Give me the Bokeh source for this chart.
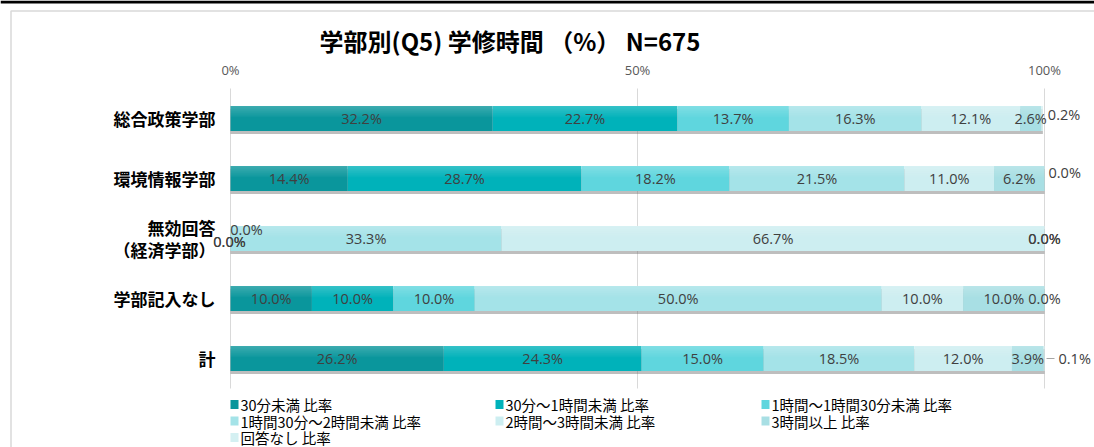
from bokeh.plotting import figure
from bokeh.models import ColumnDataSource, Range1d
from bokeh.core.properties import value
from bokeh.embed import file_html
from bokeh.resources import INLINE

# ---------------- data ----------------
title_text = "学部別(Q5) 学修時間 （%） N=675"
categories = ["総合政策学部", "環境情報学部", "無効回答（経済学部）", "学部記入なし", "計"]
category_labels = ["総合政策学部", "環境情報学部", "無効回答\n（経済学部）", "学部記入なし", "計"]
series_names = ["30分未満 比率", "30分～1時間未満 比率", "1時間～1時間30分未満 比率",
                "1時間30分～2時間未満 比率", "2時間～3時間未満 比率", "3時間以上 比率",
                "回答なし 比率"]
under_30m = [32.2, 14.4, 0.0, 10.0, 26.2]
m30_to_1h = [22.7, 28.7, 0.0, 10.0, 24.3]
h1_to_1h30 = [13.7, 18.2, 0.0, 10.0, 15.0]
h1h30_to_2h = [16.3, 21.5, 33.3, 50.0, 18.5]
h2_to_3h = [12.1, 11.0, 66.7, 10.0, 12.0]
h3_plus = [2.6, 6.2, 0.0, 10.0, 3.9]
no_answer = [0.2, 0.0, 0.0, 0.0, 0.1]
x_ticks = [0, 50, 100]
x_tick_labels = ["0%", "50%", "100%"]

# ---------------- styles / layout ----------------
colors = ["#0a969c", "#00b2ba", "#5fd6de", "#a4e3e8", "#cdeef1", "#a8dfe4", "#d4f0f2"]
keys = ["s%d" % i for i in range(7)]
series_values = [under_30m, m30_to_1h, h1_to_1h30, h1h30_to_2h, h2_to_3h, h3_plus, no_answer]
W, H = 1094, 447
X0_PX, PXU = 230, 8.14          # pixel of 0 %, pixels per percent
ROW0_PX, PXY = 118, 60          # pixel of first row centre, pixels per row
BAR_H = 0.42
JP = "Noto Sans CJK JP"
NUM = "Open Sans"
n = len(categories)


def xpx(px):
    return (px - X0_PX) / PXU


def ypx(py):
    return (n - 1) - (py - ROW0_PX) / PXY


rows_y = [n - 1 - i for i in range(n)]
band_top = n - 0.5
band_bottom = -0.5

# crowded label nudges: (row, series) -> (dx px, dy px, align)
nudges = {
    (0, 6): (5, -4, "left"),
    (1, 6): (4, -6, "left"),
    (4, 6): (14, 0, "left"),
    (2, 0): (16, -9, "center"),
    (2, 1): (-1, 3, "center"),
    (2, 2): (-1, 3, "center"),
}

p = figure(width=W, height=H, output_backend="svg", toolbar_location=None,
           x_range=Range1d(xpx(0), xpx(W)), y_range=Range1d(ypx(H), ypx(0)),
           x_axis_location=None, y_axis_location=None,
           min_border_left=0, min_border_right=0, min_border_top=0, min_border_bottom=0)
p.outline_line_color = None
p.xgrid.visible = False
p.ygrid.visible = False
p.background_fill_color = "white"
p.border_fill_color = "white"

# page decorations (sheet border line and chart frame)
p.quad(left=[xpx(0)], right=[xpx(W)], top=[ypx(0)], bottom=[ypx(3)],
       fill_color="#000000", line_color=None)
p.quad(left=[xpx(10.5)], right=[xpx(W + 10)], top=[ypx(10.5)], bottom=[ypx(H + 10)],
       fill_color=None, line_color="#d9d9d9", line_width=1.5)

# vertical grid lines at ticks
p.segment(x0=x_ticks, x1=x_ticks, y0=[band_bottom] * len(x_ticks),
          y1=[band_top] * len(x_ticks), line_color="#d9d9d9", line_width=1)

# tick labels (top)
p.text(x=x_ticks, y=[band_top] * len(x_ticks), text=x_tick_labels, y_offset=-19,
       text_align="center", text_baseline="middle", text_font=value(NUM),
       text_font_size="13px", text_color="#595959")

# title
p.text(x=[xpx(509.5)], y=[band_top], text=[title_text], y_offset=-48,
       text_align="center", text_baseline="middle", text_font=value(JP),
       text_font_size="24px", text_font_style="bold", text_color="#000000")

# category labels
p.text(x=[0] * n, y=rows_y, text=category_labels, x_offset=-15,
       text_align="right", text_baseline="middle", text_font=value(JP),
       text_font_size="17px", text_font_style="bold", text_color="#000000",
       text_line_height=0.85)

# bars
data = {"y": rows_y}
for k, v in zip(keys, series_values):
    data[k] = v
src = ColumnDataSource(data)
totals = [sum(s[i] for s in series_values) for i in range(n)]

shadow_y = [r - 3.0 / PXY for r in rows_y]
p.hbar(y=shadow_y, left=0, right=totals, height=BAR_H, fill_color="#6f6f6f",
       fill_alpha=0.45, line_color=None)

renderers = p.hbar_stack(keys, y="y", height=BAR_H, color=colors, source=src,
                         line_color=None)

n_strips = 6
strip_h = BAR_H * 0.45 / n_strips
for i in range(n_strips):
    off = BAR_H / 2 - (i + 0.5) * strip_h
    p.hbar(y=[r + off for r in rows_y], left=0, right=totals, height=strip_h * 1.05,
           fill_color="white", fill_alpha=0.20 * (1 - i / n_strips), line_color=None)

# data labels
lx, ly, lt, ldx, ldy, lal = [], [], [], [], [], []
for r in range(n):
    cum = 0.0
    for s, vals in enumerate(series_values):
        v = vals[r]
        dx, dy, al = nudges.get((r, s), (0, 0, "center"))
        lx.append(cum + v if al == "left" else cum + v / 2)
        ly.append(rows_y[r])
        lt.append("%.1f%%" % v)
        ldx.append(dx)
        ldy.append(dy)
        lal.append(al)
        cum += v
lab = ColumnDataSource(dict(x=lx, y=ly, t=lt, dx=ldx, dy=ldy, al=lal))
p.text(x="x", y="y", text="t", x_offset="dx", y_offset="dy", text_align="al",
       text_baseline="middle", text_font=value(NUM), text_font_size="14.5px",
       text_color="#404040", source=lab)

# leader line for the last row's 回答なし label
p.segment(x0=[totals[-1] + 2 / PXU], x1=[totals[-1] + 10 / PXU],
          y0=[rows_y[-1]], y1=[rows_y[-1]], line_color="#a6a6a6", line_width=1)

# legend: 3 columns, filled row-wise (drawn as marks + texts)
col_x = [230, 495, 761]
LEG_Y0, LEG_DY = 404, 16.5
mx, my, tx = [], [], []
for i in range(len(series_names)):
    c, r = i % 3, i // 3
    mx.append(xpx(col_x[c] + 4))
    tx.append(xpx(col_x[c] + 10))
    my.append(ypx(LEG_Y0 + LEG_DY * r))
p.rect(x=mx, y=my, width=8, height=9, width_units="screen", height_units="screen",
       fill_color=colors, line_color=None)
p.text(x=tx, y=my, text=series_names, text_align="left", text_baseline="middle",
       text_font=value(JP), text_font_size="14.5px", text_color="#000000")

open("out.html", "w").write(file_html(p, INLINE))
